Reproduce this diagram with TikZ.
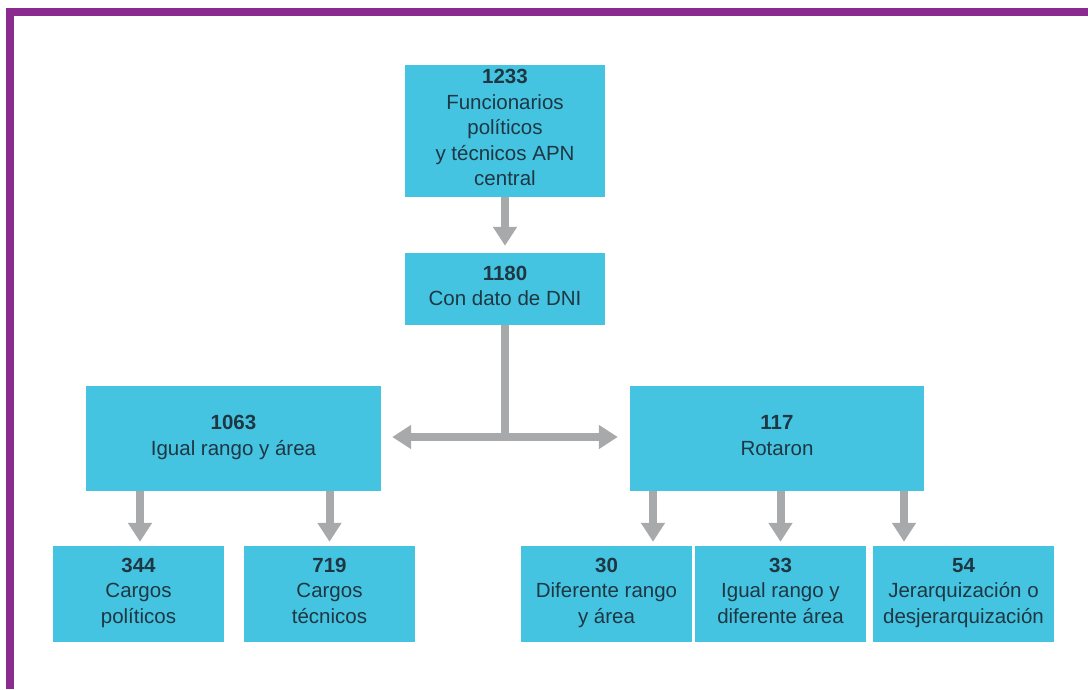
\documentclass[tikz,border=0pt]{standalone}
\usepackage{fontspec}
\setmainfont{Liberation Sans}
\usetikzlibrary{arrows.meta}
\definecolor{frame}{RGB}{139,42,143}
\definecolor{boxfill}{RGB}{69,196,226}
\definecolor{txt}{RGB}{30,55,66}
\definecolor{arrgrey}{RGB}{167,169,171}
\newcommand\lowstrut{\rule[-10pt]{0pt}{10pt}}
\tikzset{
  box/.style={fill=boxfill, draw=none, inner sep=0pt, align=center, text=txt,
    font=\fontsize{20.5}{25.5}\selectfont},
  conn/.style={draw=arrgrey, line width=8pt},
  arr/.style={conn, -{Triangle[width=23pt,length=19pt]}},
}
\begin{document}
\begin{tikzpicture}[x=1pt,y=-1pt]
\useasboundingbox (0,0) rectangle (1088,689);
% frame
\fill[frame] (6,8) rectangle (1088,16);
\fill[frame] (6,8) rectangle (14,689);

% boxes
\node[box, minimum width=200pt, minimum height=132pt] (top) at (505,131)
  {\strut\textbf{1233}\\Funcionarios\\políticos\\y técnicos APN\\central\lowstrut};
\node[box, minimum width=200pt, minimum height=72pt] (dni) at (505,289)
  {\strut\textbf{1180}\\Con dato de DNI\lowstrut};
\node[box, minimum width=295pt, minimum height=105pt] (igual) at (233.5,438.5)
  {\strut\textbf{1063}\\Igual rango y área\lowstrut};
\node[box, minimum width=294pt, minimum height=105pt] (rot) at (777,438.5)
  {\strut\textbf{117}\\Rotaron\lowstrut};

\node[box, minimum width=171pt, minimum height=96pt] (b1) at (138.5,594)
  {\strut\textbf{344}\\Cargos\\políticos\lowstrut};
\node[box, minimum width=171pt, minimum height=96pt] (b2) at (329.5,594)
  {\strut\textbf{719}\\Cargos\\técnicos\lowstrut};
\node[box, minimum width=171pt, minimum height=96pt] (b3) at (606.5,594)
  {\strut\textbf{30}\\Diferente rango\\y área\lowstrut};
\node[box, minimum width=171pt, minimum height=96pt] (b4) at (780.5,594)
  {\strut\textbf{33}\\Igual rango y\\diferente área\lowstrut};
\node[box, minimum width=181pt, minimum height=96pt] (b5) at (963.5,594)
  {\strut\textbf{54}\\Jerarquización o\\desjerarquización\lowstrut};

% connectors
\coordinate (j) at (505,437);
\coordinate (c1) at (140,0);
\coordinate (c3) at (653,0);
\coordinate (c5) at (904,0);

\draw[arr, shorten >=7pt] (top.south) -- (dni.north);
\draw[conn] (dni.south) -- (j);
\draw[arr, shorten >=11pt] (j) -- (igual.east |- j);
\draw[arr, shorten >=12pt] (j) -- (rot.west |- j);

\draw[arr, shorten >=4pt] (igual.south -| c1) -- (b1.north -| c1);
\draw[arr, shorten >=4pt] (igual.south -| b2.north) -- (b2.north);
\draw[arr, shorten >=4pt] (rot.south -| c3) -- (b3.north -| c3);
\draw[arr, shorten >=4pt] (rot.south -| b4.north) -- (b4.north);
\draw[arr, shorten >=4pt] (rot.south -| c5) -- (b5.north -| c5);
\end{tikzpicture}
\end{document}
